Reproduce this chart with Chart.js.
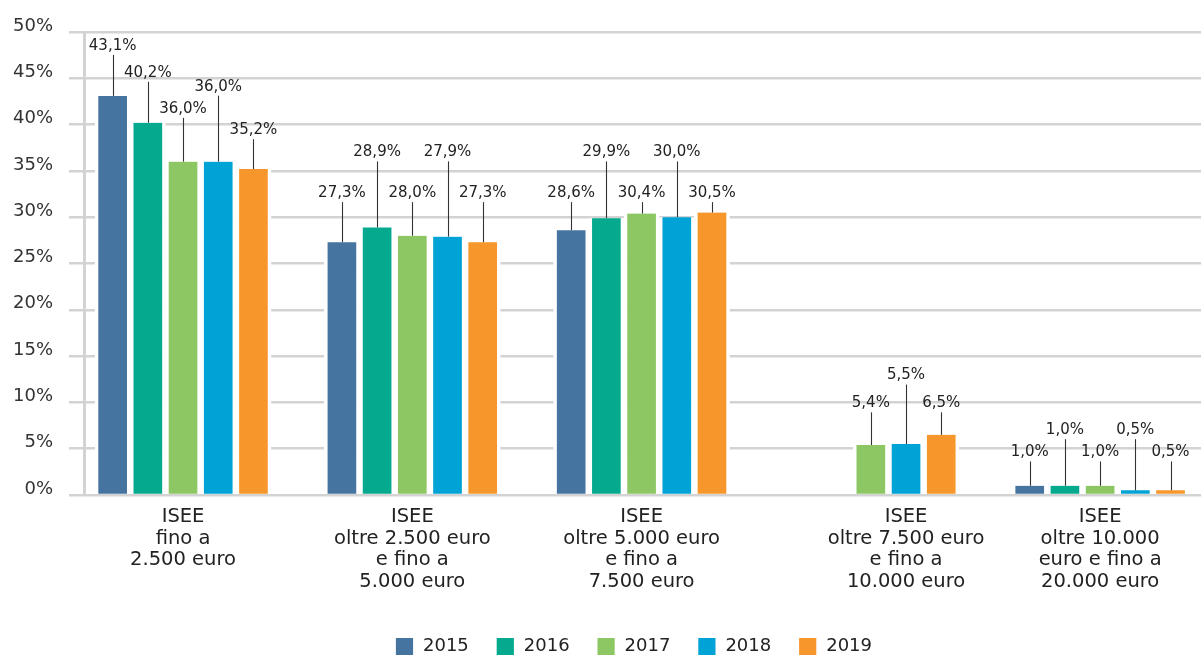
<!DOCTYPE html>
<html>
<head>
<meta charset="utf-8">
<script src="https://cdn.jsdelivr.net/npm/chart.js@4.4.1/dist/chart.umd.min.js"></script>
<style>
html,body{margin:0;padding:0;background:#fff;overflow:hidden}
#wrap{width:1201px;height:655px;position:relative}
</style>
</head>
<body>
<div id="wrap"><canvas id="c" width="1201" height="655"></canvas></div>
<script>
// ---- data ----
const categories = [
  ["ISEE", "fino a", "2.500 euro"],
  ["ISEE", "oltre 2.500 euro", "e fino a", "5.000 euro"],
  ["ISEE", "oltre 5.000 euro", "e fino a", "7.500 euro"],
  ["ISEE", "oltre 7.500 euro", "e fino a", "10.000 euro"],
  ["ISEE", "oltre 10.000", "euro e fino a", "20.000 euro"]
];
const years = ["2015", "2016", "2017", "2018", "2019"];
const values2015 = [43.1, 27.3, 28.6, null, 1.0];
const values2016 = [40.2, 28.9, 29.9, null, 1.0];
const values2017 = [36.0, 28.0, 30.4, 5.4, 1.0];
const values2018 = [36.0, 27.9, 30.0, 5.5, 0.5];
const values2019 = [35.2, 27.3, 30.5, 6.5, 0.5];
const yTicks = [0, 5, 10, 15, 20, 25, 30, 35, 40, 45, 50];

const series = [values2015, values2016, values2017, values2018, values2019];

// ---- styling / layout ----
const colors = ["#4674a0", "#05a98d", "#8cc763", "#00a3d5", "#f7962a"];
const FONT = "'DejaVu Sans', sans-serif";
const BAR_SLOT = 35.2;     // px per bar slot (bar + white gap)
// level (in % units) at which each value label sits (staggered as in the original)
const labelLevels = [
  [48.5, 32.6, 32.6, null, 4.6],
  [45.6, 37.0, 37.0, null, 7.0],
  [41.7, 32.6, 32.6, 9.9, 4.6],
  [44.1, 37.0, 37.0, 12.9, 7.0],
  [39.4, 32.6, 32.6, 9.9, 4.6]
];

const fmt = v => v.toFixed(1).replace('.', ',') + '%';

const leaderLabels = {
  id: 'leaderLabels',
  afterDatasetsDraw(chart) {
    const {ctx} = chart;
    const y = chart.scales.y;
    ctx.save();
    ctx.font = `15px ${FONT}`;
    ctx.textAlign = 'center';
    ctx.textBaseline = 'middle';
    series.forEach((vals, j) => {
      const meta = chart.getDatasetMeta(j);
      meta.data.forEach((bar, i) => {
        const v = vals[i];
        if (v == null) return;
        const ly = y.getPixelForValue(labelLevels[j][i]);
        const lx = Math.round(bar.x) + 0.5;
        ctx.strokeStyle = '#333';
        ctx.lineWidth = 1.1;
        ctx.beginPath();
        ctx.moveTo(lx, bar.y);
        ctx.lineTo(lx, ly + 9);
        ctx.stroke();
        ctx.fillStyle = '#222';
        ctx.fillText(fmt(v), bar.x, ly);
      });
    });
    ctx.restore();
  }
};

// nudge the legend row slightly left, as in the original
const legendShift = {
  id: 'legendShift',
  afterLayout(chart) {
    if (chart.legend) {
      chart.legend.right -= 18;
      chart.legend.width -= 18;
    }
  }
};

new Chart(document.getElementById('c'), {
  type: 'bar',
  data: {
    datasets: series.map((vals, j) => ({
      label: years[j],
      data: vals.map((v, i) => ({x: i, y: v})),
      backgroundColor: colors[j],
      borderColor: '#ffffff',
      borderWidth: {left: 3.6, right: 3.6, top: 0, bottom: 0},
      borderSkipped: false,
      barThickness: BAR_SLOT
    }))
  },
  plugins: [leaderLabels, legendShift],
  options: {
    responsive: false,
    animation: false,
    devicePixelRatio: 1,
    layout: {padding: {top: 32, right: 0, bottom: -11, left: 0}},
    plugins: {
      tooltip: {enabled: false},
      legend: {
        position: 'bottom',
        fullSize: false,
        labels: {
          boxWidth: 19,
          boxHeight: 19,
          padding: 27,
          color: '#222',
          font: {family: FONT, size: 18}
        }
      }
    },
    scales: {
      x: {
        type: 'linear',
        offset: false,
        bounds: 'data',
        min: -0.432,
        max: 4.44,
        grid: {display: false, drawTicks: false, offset: false},
        border: {display: false},
        afterBuildTicks(scale) {
          const n = series.length;
          const pxPerUnit = scale.width / (scale.max - scale.min);
          scale.ticks = categories.map((c, i) => {
            const present = [];
            series.forEach((s, j) => { if (s[i] != null) present.push(j); });
            const mean = present.reduce((a, b) => a + b, 0) / present.length;
            return {value: i + (mean - (n - 1) / 2) * BAR_SLOT / pxPerUnit};
          });
        },
        afterFit(scale) {
          scale.height = 115;
          scale.paddingLeft = 0;
          scale.paddingRight = 0;
        },
        ticks: {
          autoSkip: false,
          maxRotation: 0,
          minRotation: 0,
          padding: 11,
          color: '#222',
          font: {family: FONT, size: 19.5, lineHeight: 1.11},
          callback: (value, index) => categories[index]
        }
      },
      y: {
        min: 0,
        max: 50,
        afterBuildTicks(scale) {
          scale.ticks = yTicks.map(v => ({value: v}));
        },
        afterFit(scale) { scale.width = 84; },
        grid: {color: '#d3d3d3', lineWidth: 2.5, tickLength: 15, drawTicks: true},
        border: {display: true, color: '#d3d3d3', width: 3},
        ticks: {
          padding: 16,
          labelOffset: -6,
          color: '#333',
          font: {family: FONT, size: 18},
          callback: v => v + '%'
        }
      }
    }
  }
});
</script>
</body>
</html>
